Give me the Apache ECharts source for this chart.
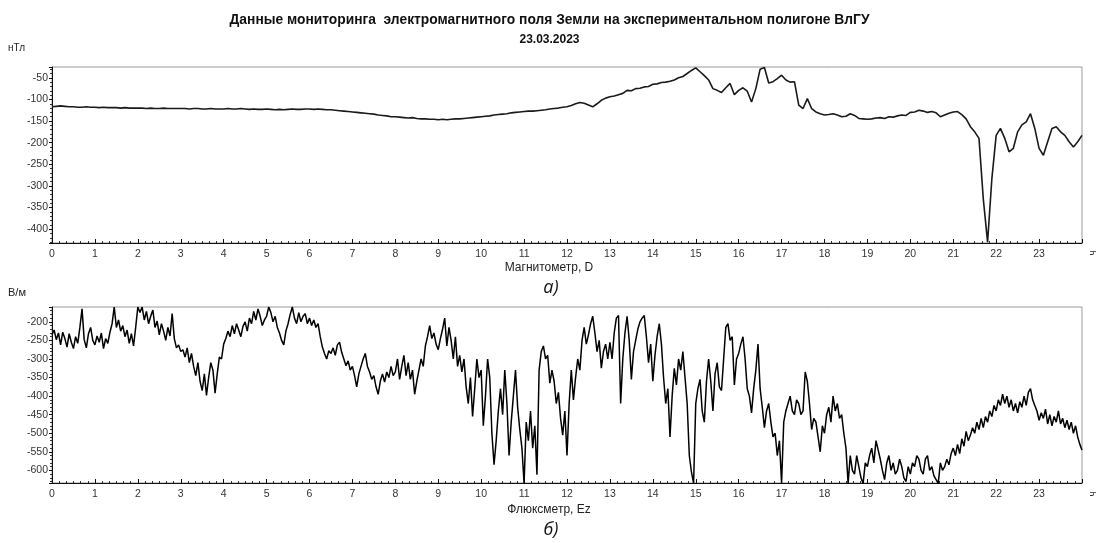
<!DOCTYPE html>
<html><head><meta charset="utf-8">
<script src="https://cdn.jsdelivr.net/npm/echarts@6/dist/echarts.min.js"></script>
<style>html,body{margin:0;padding:0;background:#fff}#c{width:1099px;height:543px}</style>
</head><body><div id="c"></div>
<script>
// ---- data ----
const titleText = "Данные мониторинга  электромагнитного поля Земли на экспериментальном полигоне ВлГУ";
const dateText = "23.03.2023";
const hourTicks = [0,1,2,3,4,5,6,7,8,9,10,11,12,13,14,15,16,17,18,19,20,21,22,23];
const magStep = 0.1; // hours between magnetometer samples
const magD = [
 -117,-116,-115,-116,-117,-117,-118,-118,-117,-118,
 -118,-119,-118,-119,-119,-119,-120,-119,-120,-120,
 -120,-120,-121,-120,-121,-121,-120,-121,-121,-121,
 -121,-121,-122,-121,-121,-122,-122,-121,-122,-122,
 -122,-121,-122,-122,-121,-122,-123,-122,-123,-123,
 -122,-123,-124,-123,-124,-123,-122,-123,-123,-122,
 -122,-123,-122,-123,-124,-124,-125,-126,-127,-128,
 -129,-130,-131,-132,-133,-134,-136,-137,-138,-140,
 -140,-141,-142,-143,-142,-144,-145,-145,-146,-146,
 -147,-146,-147,-146,-145,-145,-144,-143,-142,-141,
 -140,-139,-138,-136,-135,-134,-133,-131,-130,-129,
 -128,-127,-127,-126,-125,-124,-122,-121,-120,-118,
 -117,-114,-110,-107,-109,-113,-117,-110,-102,-97,
 -94,-92,-89,-86,-79,-80,-75,-74,-71,-70,
 -65,-64,-61,-60,-58,-55,-50,-47,-40,-33,
 -27,-36,-45,-55,-75,-79,-84,-73,-63,-89,
 -79,-73,-81,-106,-75,-30,-26,-62,-59,-52,
 -44,-55,-60,-59,-113,-121,-98,-121,-129,-133,
 -136,-135,-133,-136,-140,-139,-133,-137,-144,-145,
 -146,-145,-143,-142,-144,-140,-141,-138,-136,-137,
 -130,-129,-125,-127,-130,-128,-131,-140,-136,-132,
 -129,-128,-135,-145,-163,-175,-190,-330,-430,-283,
 -183,-167,-190,-221,-213,-175,-159,-152,-133,-167,
 -213,-229,-198,-167,-163,-175,-183,-198,-210,-198,
 -183
];
const fluxStep = 0.05; // hours between fluxmeter samples
const fluxEz = [
 -235,-222,-248,-230,-262,-228,-245,-268,-232,-255,-272,-240,-258,-215,-165,-248,-270,-232,-215,-250,
 -262,-238,-255,-230,-272,-245,-258,-228,-205,-160,-215,-195,-225,-210,-240,-222,-258,-232,-265,-215,
 -160,-175,-160,-195,-172,-205,-185,-168,-215,-198,-235,-205,-225,-250,-215,-238,-178,-245,-270,-262,
 -280,-275,-295,-270,-310,-285,-320,-345,-310,-360,-385,-340,-398,-350,-310,-330,-392,-340,-295,-300,
 -260,-245,-225,-240,-210,-232,-205,-222,-240,-212,-200,-225,-190,-205,-172,-195,-165,-185,-210,-195,
 -185,-160,-175,-200,-185,-215,-230,-250,-262,-225,-205,-180,-160,-190,-205,-175,-200,-185,-178,-205,
 -190,-210,-195,-215,-205,-240,-268,-285,-300,-278,-285,-270,-290,-262,-255,-282,-300,-318,-305,-330,
 -320,-345,-375,-340,-320,-300,-285,-320,-335,-355,-345,-375,-395,-360,-340,-362,-335,-350,-320,-345,
 -335,-300,-355,-320,-290,-345,-310,-355,-330,-395,-360,-330,-300,-320,-265,-240,-210,-245,-230,-260,
 -275,-245,-220,-190,-265,-215,-250,-300,-240,-320,-290,-335,-300,-375,-420,-350,-455,-380,-300,-350,
 -330,-480,-400,-300,-350,-500,-585,-520,-440,-380,-450,-330,-420,-560,-470,-400,-330,-430,-490,-540,
 -635,-470,-520,-440,-540,-480,-612,-330,-280,-265,-300,-290,-365,-330,-360,-420,-390,-460,-505,-440,
 -560,-420,-330,-410,-350,-300,-330,-250,-215,-260,-235,-205,-185,-230,-280,-250,-325,-280,-260,-300,
 -255,-300,-230,-190,-183,-420,-300,-230,-185,-250,-355,-280,-250,-220,-200,-190,-183,-240,-310,-260,
 -360,-290,-240,-205,-260,-350,-420,-380,-510,-400,-325,-370,-300,-330,-280,-350,-420,-560,-605,-635,
 -420,-380,-355,-440,-470,-360,-300,-360,-440,-340,-310,-375,-385,-300,-215,-205,-250,-240,-370,-300,
 -285,-260,-240,-300,-380,-400,-445,-380,-330,-260,-380,-430,-485,-440,-420,-470,-510,-500,-560,-520,
 -635,-470,-440,-420,-400,-440,-450,-410,-420,-450,-440,-335,-360,-420,-490,-460,-470,-510,-550,-480,
 -500,-450,-430,-470,-400,-440,-420,-460,-450,-500,-540,-635,-560,-600,-610,-560,-590,-620,-635,-580,
 -590,-560,-540,-580,-520,-545,-570,-600,-625,-580,-560,-600,-580,-610,-600,-570,-590,-620,-630,-590,
 -610,-580,-590,-560,-570,-600,-610,-570,-560,-600,-590,-615,-625,-635,-580,-600,-590,-570,-585,-555,
 -540,-560,-530,-555,-515,-535,-495,-520,-505,-485,-500,-470,-490,-460,-485,-455,-470,-440,-455,-425,
 -440,-410,-425,-395,-420,-400,-430,-410,-440,-420,-445,-415,-430,-400,-425,-390,-380,-410,-425,-440,
 -465,-445,-460,-435,-475,-450,-480,-455,-470,-440,-475,-460,-485,-465,-490,-470,-500,-480,-510,-530,
 -545
];
const magRange = [-432, -25];
const fluxRange = [-634, -160];
const magUnit = "нТл", fluxUnit = "В/м";
const magName = "Магнитометр, D", fluxName = "Флюксметр, Ez";
const capA = "а)", capB = "б)";
const hourUnit = "ч";

// ---- build ----
const toPairs = (arr, step) => arr.map((v, i) => [+(i * step).toFixed(3), v]);
const FONT = "Liberation Sans, Arial, sans-serif";
const chart = echarts.init(document.getElementById('c'), null, {renderer: 'canvas'});

function xAx(gi) {
  return {
    type: 'value', gridIndex: gi, min: 0, max: 24, interval: 1,
    axisLine: {show: true, onZero: false, lineStyle: {color: '#111', width: 1}},
    axisTick: {show: true, inside: true, length: 4, lineStyle: {color: '#111'}},
    minorTick: {show: true, splitNumber: 6, length: 2, lineStyle: {color: '#333'}},
    axisLabel: {color: '#333', fontFamily: FONT, fontSize: 10.5, margin: 6, showMaxLabel: false,
      formatter: v => hourTicks.includes(v) ? String(v) : ''},
    splitLine: {show: false}
  };
}
function yAx(gi, r, split) {
  return {
    type: 'value', gridIndex: gi, min: r[0], max: r[1], splitNumber: split,
    axisLine: {show: true, lineStyle: {color: '#111', width: 1}},
    axisTick: {show: true, inside: false, length: 3, lineStyle: {color: '#111'}},
    minorTick: {show: true, splitNumber: 5, length: 2, lineStyle: {color: '#333'}},
    axisLabel: {color: '#333', fontFamily: FONT, fontSize: 10.5, margin: 4, showMinLabel: false, showMaxLabel: false},
    splitLine: {show: false}
  };
}

chart.setOption({
  animation: false,
  backgroundColor: '#fff',
  title: [{
    text: titleText, subtext: dateText, left: 'center', top: 8, itemGap: 7,
    textStyle: {fontFamily: FONT, fontSize: 13.8, fontWeight: 'bold', color: '#111'},
    subtextStyle: {fontFamily: FONT, fontSize: 12, fontWeight: 'bold', color: '#111'}
  }],
  grid: [
    {left: 52, right: 17, top: 67, height: 176, show: true, borderColor: '#999', borderWidth: 1},
    {left: 52, right: 17, top: 307, height: 176, show: true, borderColor: '#999', borderWidth: 1}
  ],
  xAxis: [xAx(0), xAx(1)],
  yAxis: [yAx(0, magRange, 8), yAx(1, fluxRange, 9)],
  series: [
    {type: 'line', xAxisIndex: 0, yAxisIndex: 0, data: toPairs(magD, magStep), showSymbol: false,
      lineStyle: {color: '#1a1a1a', width: 1.6}, clip: true},
    {type: 'line', xAxisIndex: 1, yAxisIndex: 1, data: toPairs(fluxEz, fluxStep), showSymbol: false,
      lineStyle: {color: '#000', width: 1.5}, clip: true}
  ],
  graphic: [
    {type: 'text', left: 8, top: 43, style: {text: magUnit, font: '10px ' + FONT, fill: '#222'}},
    {type: 'text', left: 8, top: 287, style: {text: fluxUnit, font: '11px ' + FONT, fill: '#222'}},
    {type: 'text', x: 549, y: 268, style: {text: magName, font: '12px ' + FONT, fill: '#222', textAlign: 'center', textVerticalAlign: 'middle'}},
    {type: 'text', x: 549, y: 510, style: {text: fluxName, font: '12px ' + FONT, fill: '#222', textAlign: 'center', textVerticalAlign: 'middle'}},
    {type: 'text', x: 551, y: 288, style: {text: capA, font: 'italic 18px "Open Sans", sans-serif', fill: '#111', textAlign: 'center', textVerticalAlign: 'middle'}},
    {type: 'text', x: 551, y: 530, style: {text: capB, font: 'italic 18px "Open Sans", sans-serif', fill: '#111', textAlign: 'center', textVerticalAlign: 'middle'}},
    {type: 'text', x: 1093, y: 253, rotation: Math.PI / 2, style: {text: hourUnit, font: '10px ' + FONT, fill: '#333', textAlign: 'center', textVerticalAlign: 'middle'}},
    {type: 'text', x: 1093, y: 494, rotation: Math.PI / 2, style: {text: hourUnit, font: '10px ' + FONT, fill: '#333', textAlign: 'center', textVerticalAlign: 'middle'}}
  ]
});
</script></body></html>
